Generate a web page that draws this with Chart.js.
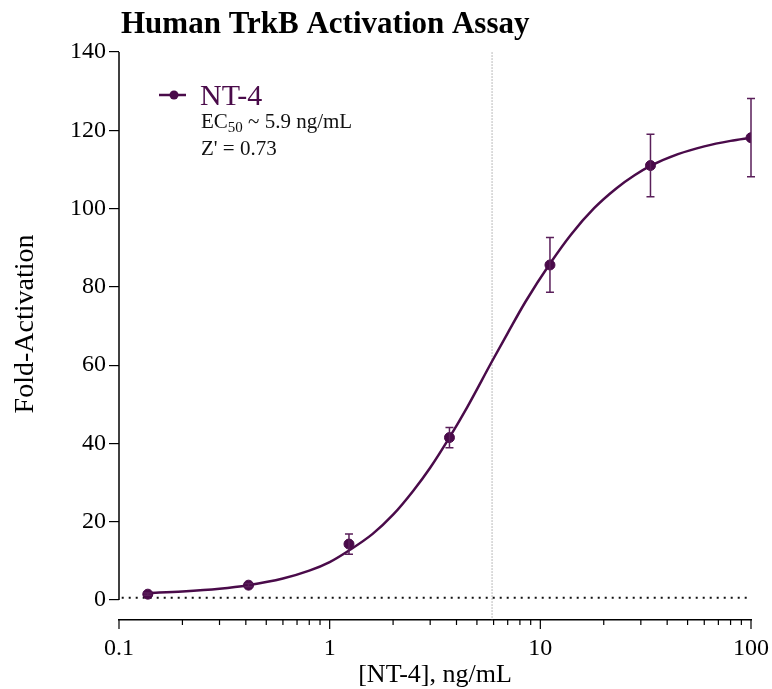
<!DOCTYPE html>
<html lang="en">
<head>
<meta charset="UTF-8" />
<title>Human TrkB Activation Assay</title>
<script src="https://cdn.jsdelivr.net/npm/chart.js"></script>
<style>
  html, body { margin: 0; padding: 0; background: #fff; }
  #wrap { width: 772px; height: 689px; }
</style>
</head>
<body>
<div id="wrap"><canvas id="assayChart" width="772" height="689"></canvas></div>
<script>
  // NT-4 concentrations (ng/mL), 3-fold dilution series
  const doses = [0.137, 0.412, 1.235, 3.704, 11.11, 33.33, 100];
  const foldMean = [1.5, 3.8, 14.3, 41.5, 85.6, 111.0, 118.1];
  const foldErr = [0.3, 0.4, 2.6, 2.6, 7.0, 8.0, 10.0];

  // fitted dose-response curve
  const fitX = [0.137, 0.2, 0.3, 0.41, 0.6, 0.8, 1.0, 1.23, 1.6, 2, 2.5, 3, 3.7, 4.5, 5.9, 7, 8.5, 11.1, 14, 18, 23, 28, 33.3, 45, 60, 80, 100];
  const fitY = [1.8, 2.2, 2.9, 3.8, 5.5, 7.5, 9.7, 12.6, 16.9, 21.8, 28.0, 33.8, 41.5, 49.3, 61.0, 68.2, 76.2, 85.9, 93.4, 100.1, 105.2, 108.5, 110.9, 113.9, 115.9, 117.3, 118.1];

  const baselineFold = 0.6;
  const ec50 = 5.9;
  const yTicks = [0, 20, 40, 60, 80, 100, 120, 140];
  const xTicks = [0.1, 1, 10, 100];

  const purple = '#4a0b4a';
  const serif = "'Liberation Serif', 'Times New Roman', serif";

  // title, legend box, y axis line + title, x minor ticks, error bars
  const decorations = {
    id: 'decorations',
    afterDatasetsDraw(chart) {
      const ctx = chart.ctx;
      const x = chart.scales.x, y = chart.scales.y;
      ctx.save();
      ctx.strokeStyle = '#5a1f5a';
      ctx.lineWidth = 1.5;
      doses.forEach((d, i) => {
        const px = x.getPixelForValue(d);
        const top = y.getPixelForValue(foldMean[i] + foldErr[i]);
        const bot = y.getPixelForValue(foldMean[i] - foldErr[i]);
        ctx.beginPath();
        ctx.moveTo(px, top); ctx.lineTo(px, bot);
        ctx.moveTo(px - 4, top); ctx.lineTo(px + 4, top);
        ctx.moveTo(px - 4, bot); ctx.lineTo(px + 4, bot);
        ctx.stroke();
      });
      ctx.restore();
    },
    afterDraw(chart) {
      const ctx = chart.ctx;
      const x = chart.scales.x, y = chart.scales.y;
      const area = chart.chartArea;
      ctx.save();

      // y axis line, only from 0 to 140
      ctx.strokeStyle = '#000';
      ctx.lineWidth = 1.5;
      ctx.beginPath();
      ctx.moveTo(area.left, y.getPixelForValue(140));
      ctx.lineTo(area.left, y.getPixelForValue(0));
      ctx.stroke();

      // x axis ticks, major and minor
      ctx.lineWidth = 1.2;
      ctx.beginPath();
      [0.1, 1, 10].forEach(dec => {
        for (let m = 1; m <= 9; m++) {
          const px = x.getPixelForValue(dec * m);
          ctx.moveTo(px, area.bottom);
          ctx.lineTo(px, area.bottom + (m === 1 ? 9 : 5));
        }
      });
      const pEnd = x.getPixelForValue(100);
      ctx.moveTo(pEnd, area.bottom);
      ctx.lineTo(pEnd, area.bottom + 9);
      ctx.stroke();

      // y axis title
      ctx.fillStyle = '#000';
      ctx.save();
      ctx.translate(26, 324);
      ctx.rotate(-Math.PI / 2);
      ctx.font = '28px ' + serif;
      ctx.textAlign = 'center';
      ctx.textBaseline = 'middle';
      ctx.fillText('Fold-Activation', 0, 0);
      ctx.restore();

      // title
      ctx.font = 'bold 31px ' + serif;
      ctx.textAlign = 'left';
      ctx.textBaseline = 'alphabetic';
      ctx.fillText('Human TrkB Activation Assay', 121, 33);

      // legend
      ctx.strokeStyle = purple;
      ctx.lineWidth = 2.5;
      ctx.beginPath();
      ctx.moveTo(159, 95); ctx.lineTo(186, 95);
      ctx.stroke();
      ctx.fillStyle = purple;
      ctx.beginPath();
      ctx.arc(174, 95, 4.5, 0, Math.PI * 2);
      ctx.fill();
      ctx.font = '30px ' + serif;
      ctx.fillText('NT-4', 200, 105);

      ctx.fillStyle = '#111';
      ctx.font = '21px ' + serif;
      ctx.fillText('EC', 201, 128);
      let w = ctx.measureText('EC').width;
      ctx.font = '15px ' + serif;
      ctx.fillText('50', 201 + w, 132);
      w += ctx.measureText('50').width;
      ctx.font = '21px ' + serif;
      ctx.fillText(' ~ 5.9 ng/mL', 201 + w, 128);
      ctx.fillText("Z' = 0.73", 201, 155);
      ctx.restore();
    }
  };

  new Chart(document.getElementById('assayChart'), {
    type: 'scatter',
    data: {
      datasets: [
        {
          label: 'NT-4',
          data: doses.map((d, i) => ({ x: d, y: foldMean[i] })),
          backgroundColor: purple,
          borderColor: purple,
          pointRadius: 5,
          showLine: false
        },
        {
          label: 'fit',
          type: 'line',
          data: fitX.map((d, i) => ({ x: d, y: fitY[i] })),
          borderColor: purple,
          borderWidth: 2.5,
          pointRadius: 0,
          cubicInterpolationMode: 'monotone',
          fill: false
        },
        {
          label: 'baseline',
          type: 'line',
          data: [{ x: 0.103, y: baselineFold }, { x: 100, y: baselineFold }],
          borderColor: '#111',
          borderWidth: 2,
          borderDash: [2, 5],
          pointRadius: 0
        },
        {
          label: 'EC50',
          type: 'line',
          data: [{ x: ec50, y: -6 }, { x: ec50, y: 140 }],
          borderColor: '#777',
          borderWidth: 1,
          borderDash: [1, 2],
          pointRadius: 0
        }
      ]
    },
    options: {
      responsive: false,
      animation: false,
      layout: { padding: { top: 52, right: 21, left: 0, bottom: 0 } },
      plugins: {
        legend: { display: false },
        tooltip: { enabled: false }
      },
      scales: {
        x: {
          type: 'logarithmic',
          min: 0.1,
          max: 100,
          afterBuildTicks: s => { s.ticks = xTicks.map(v => ({ value: v })); },
          afterFit: s => { s.height = 69; s.paddingLeft = 0; s.paddingRight = 0; },
          ticks: {
            autoSkip: false,
            maxRotation: 0,
            padding: 14,
            color: '#000',
            font: { family: serif, size: 24 },
            callback: v => String(v)
          },
          grid: { display: false, drawTicks: false },
          border: { display: true, color: '#000', width: 1.5 },
          title: {
            display: true,
            text: '[NT-4], ng/mL',
            color: '#000',
            font: { family: serif, size: 26, lineHeight: 1 },
            padding: { top: 0, bottom: 1 }
          }
        },
        y: {
          min: -5.1,
          max: 140,
          afterBuildTicks: s => { s.ticks = yTicks.map(v => ({ value: v })); },
          afterFit: s => { s.width = 119; },
          ticks: {
            padding: 3,
            color: '#000',
            font: { family: serif, size: 24 },
            callback: v => String(v)
          },
          grid: {
            display: true,
            drawOnChartArea: false,
            drawTicks: true,
            tickLength: 10,
            color: '#000',
            lineWidth: 1.2
          },
          border: { display: false },
          title: { display: false }
        }
      }
    },
    plugins: [decorations]
  });
</script>
</body>
</html>
